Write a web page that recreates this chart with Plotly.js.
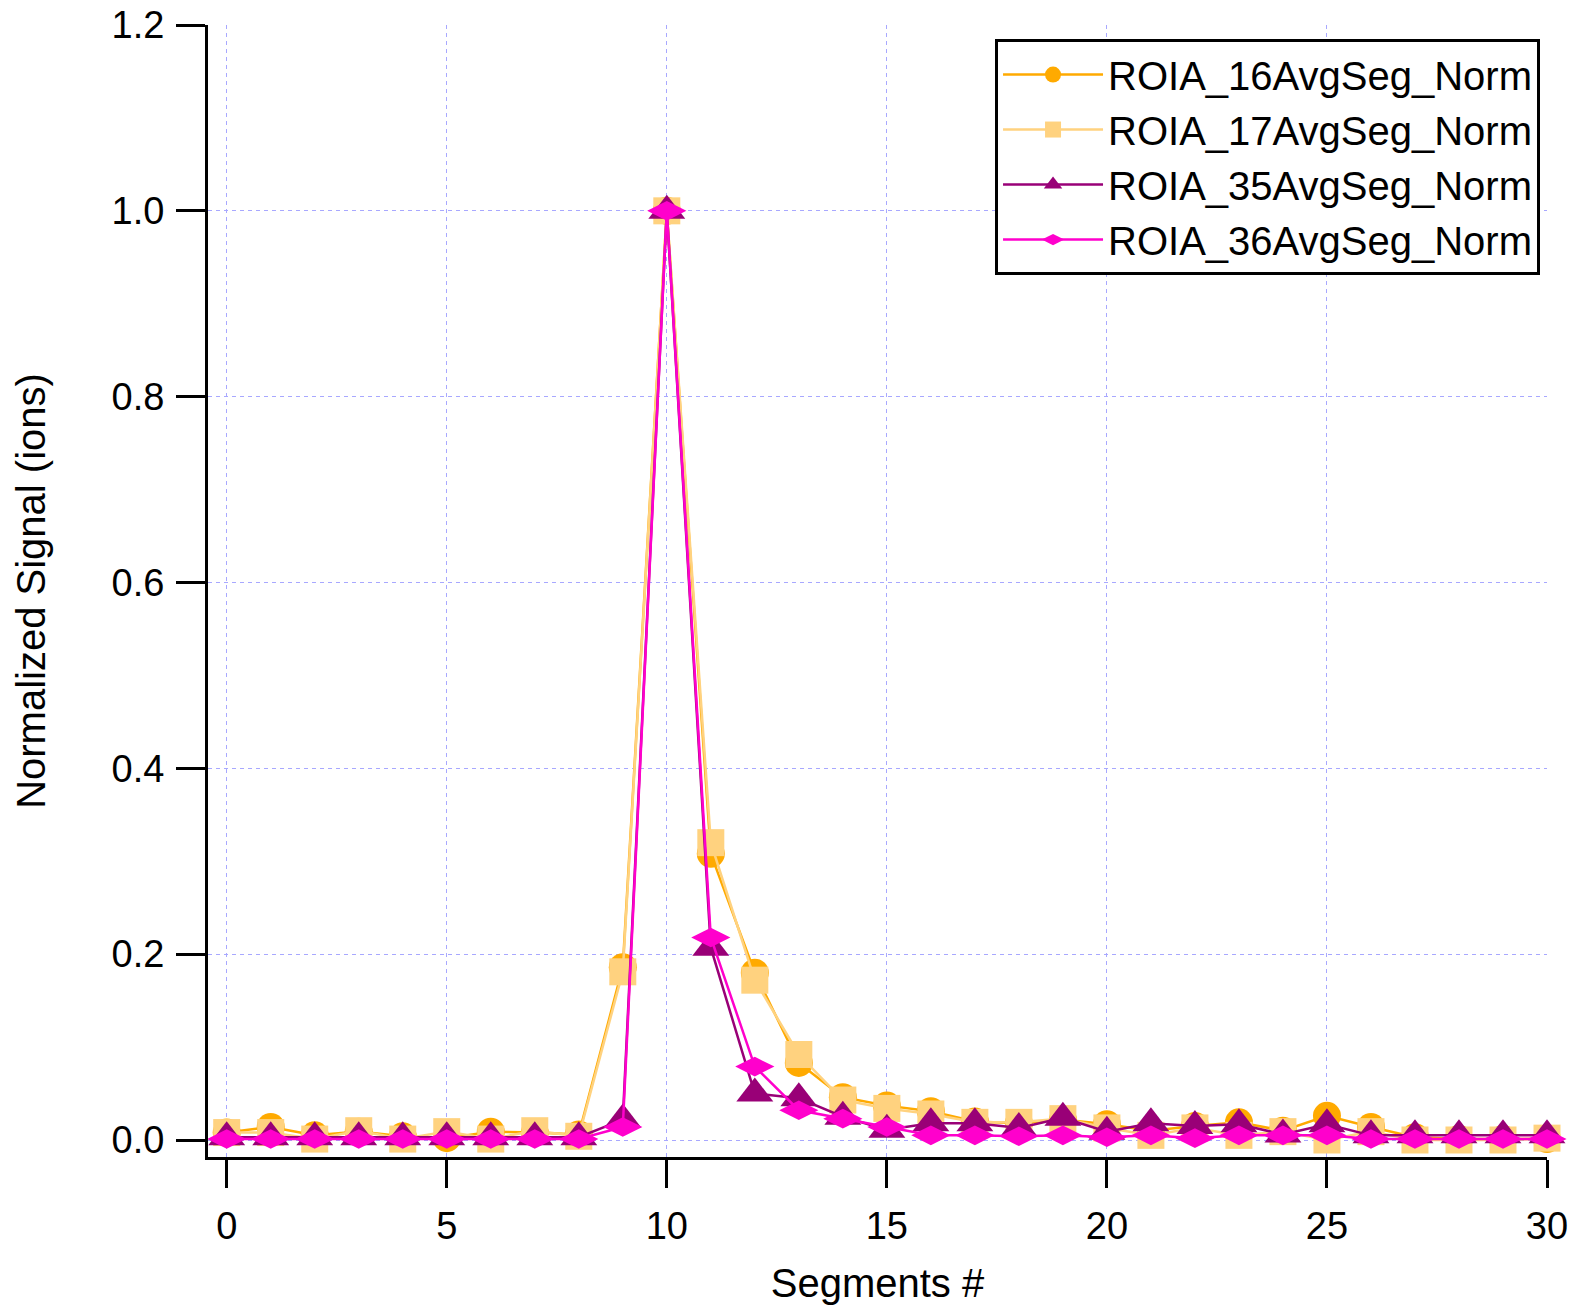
<!DOCTYPE html>
<html>
<head>
<meta charset="utf-8">
<script src="https://cdn.plot.ly/plotly-3.0.1.min.js"></script>
<style>
  html, body { margin: 0; padding: 0; background: #ffffff; }
  #chart { width: 1578px; height: 1305px; }
</style>
</head>
<body>
<div id="chart"></div>
<script>
// Segment index (x)
var segments = [0,1,2,3,4,5,6,7,8,9,10,11,12,13,14,15,16,17,18,19,20,21,22,23,24,25,26,27,28,29,30];

// Series values (normalized signal)
var roia16 = [0.008,0.014,0.005,0.009,0.004,0.002,0.009,0.008,0.006,0.186,1.0,0.308,0.180,0.083,0.046,0.037,0.031,0.020,0.018,0.022,0.017,0.010,0.015,0.019,0.010,0.026,0.014,0.003,0.001,0.001,0.001];
var roia17 = [0.008,0.008,0.001,0.010,0.001,0.009,0.001,0.010,0.004,0.181,1.0,0.320,0.172,0.092,0.043,0.034,0.028,0.019,0.019,0.023,0.013,0.005,0.013,0.005,0.009,0.000,0.009,0.000,0.000,0.000,0.002];
var roia35 = [0.003,0.003,0.003,0.003,0.003,0.003,0.003,0.003,0.003,0.022,1.0,0.207,0.050,0.045,0.025,0.011,0.018,0.018,0.013,0.024,0.009,0.018,0.015,0.017,0.006,0.017,0.005,0.005,0.005,0.005,0.005];
var roia36 = [0.001,0.001,0.001,0.001,0.001,0.001,0.001,0.001,0.001,0.014,1.0,0.218,0.079,0.032,0.023,0.014,0.005,0.005,0.004,0.005,0.003,0.005,0.002,0.005,0.005,0.005,0.001,0.001,0.001,0.001,0.001];

var seriesNames = ['ROIA_16AvgSeg_Norm','ROIA_17AvgSeg_Norm','ROIA_35AvgSeg_Norm','ROIA_36AvgSeg_Norm'];
var xTickVals = [0,5,10,15,20,25,30];
var yTickVals = [0,0.2,0.4,0.6,0.8,1.0,1.2];

var FONT = 'Liberation Sans, Arial, sans-serif';

function mk(y, name, color, symbol, size) {
  return {
    x: segments, y: y, name: name, type: 'scatter', mode: 'lines+markers',
    line: {color: color, width: 2.5},
    marker: {color: color, symbol: symbol, size: size, line: {width: 0}},
    cliponaxis: false
  };
}

var data = [
  mk(roia16, seriesNames[0], '#FFAA00', 'circle', 28),
  mk(roia17, seriesNames[1], '#FFD27F', 'square', 27),
  mk(roia35, seriesNames[2], '#990077', 'triangle-up', 32),
  mk(roia36, seriesNames[3], '#FF00CC', 'diamond-wide', 28)
];

var layout = {
  width: 1578, height: 1305,
  margin: {l: 208, r: 31, t: 25, b: 148},
  paper_bgcolor: '#ffffff', plot_bgcolor: '#ffffff',
  font: {family: FONT, color: '#000000', size: 38},
  showlegend: true,
  legend: {
    x: 0.9948, xanchor: 'right', y: 0.9876, yanchor: 'top',
    bgcolor: '#ffffff', bordercolor: '#000000', borderwidth: 3,
    font: {family: FONT, size: 40, color: '#000000'},
    itemwidth: 100
  },
  xaxis: {
    range: [-0.425, 30.0],
    tickvals: xTickVals,
    ticktext: xTickVals.map(String),
    showline: true, linecolor: '#000000', linewidth: 3,
    ticks: 'outside', ticklen: 28, tickwidth: 3, tickcolor: '#000000',
    ticklabelstandoff: 5,
    showgrid: true, gridcolor: '#A8A8FF', gridwidth: 1, griddash: '4px,4px',
    zeroline: false,
    tickfont: {family: FONT, size: 38},
    title: {text: 'Segments #', font: {family: FONT, size: 40}, standoff: 31}
  },
  yaxis: {
    range: [-0.0183, 1.2],
    tickvals: yTickVals,
    tickformat: '.1f',
    showline: true, linecolor: '#000000', linewidth: 3,
    ticks: 'outside', ticklen: 29, tickwidth: 3, tickcolor: '#000000',
    ticklabelstandoff: 4,
    showgrid: true, gridcolor: '#A8A8FF', gridwidth: 1, griddash: '4px,4px',
    zeroline: false,
    tickfont: {family: FONT, size: 38},
    title: {text: 'Normalized Signal (ions)', font: {family: FONT, size: 40}, standoff: 54}
  }
};

Plotly.newPlot('chart', data, layout, {displayModeBar: false, staticPlot: true});
</script>
</body>
</html>
